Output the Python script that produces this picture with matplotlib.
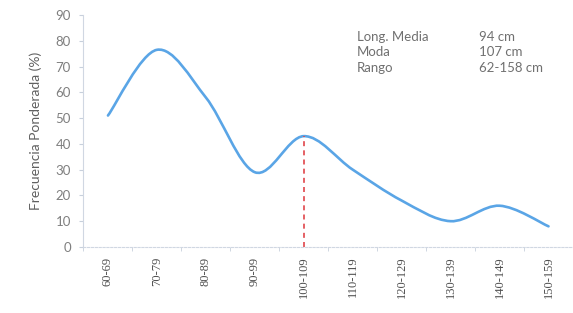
import numpy as np
import matplotlib
matplotlib.use("Agg")
import matplotlib.pyplot as plt
from matplotlib.path import Path
from matplotlib.patches import PathPatch

categories = ["60-69", "70-79", "80-89", "90-99", "100-109", "110-119",
              "120-129", "130-139", "140-149", "150-159"]
values = [51, 76.5, 58, 29, 43, 30, 18, 10, 16, 8]
moda_category = "100-109"
stats_labels = ["Long. Media", "Moda", "Rango"]
stats_values = ["94 cm", "107 cm", "62-158 cm"]
y_ticks = [0, 10, 20, 30, 40, 50, 60, 70, 80, 90]

fig = plt.figure(figsize=(5.73, 3.13), dpi=100)
ax = fig.add_axes([0.1457, 0.211, 0.8543, 0.741])

x = np.arange(len(categories), dtype=float)
y = np.array(values, dtype=float)

# Excel-like smoothed line (Catmull-Rom -> cubic Bezier)
verts = [(x[0], y[0])]
codes = [Path.MOVETO]
n = len(x)
for i in range(n - 1):
    p0 = np.array([x[max(i - 1, 0)], y[max(i - 1, 0)]])
    p1 = np.array([x[i], y[i]])
    p2 = np.array([x[i + 1], y[i + 1]])
    p3 = np.array([x[min(i + 2, n - 1)], y[min(i + 2, n - 1)]])
    c1 = p1 + (p2 - p0) / 6.0
    c2 = p2 - (p3 - p1) / 6.0
    verts += [tuple(c1), tuple(c2), tuple(p2)]
    codes += [Path.CURVE4] * 3
ax.add_patch(PathPatch(Path(verts, codes), facecolor="none",
                       edgecolor="#5aa5e6", lw=1.9, capstyle="round"))

mi = categories.index(moda_category)
ax.plot([x[mi], x[mi]], [0, y[mi]], ls=(0, (3, 2.5)), color="#e0454a", lw=1.2)

ax.set_xlim(-0.5, n - 0.5)
ax.set_ylim(0, 90)
ax.set_yticks(y_ticks)
ax.set_xticks(x)
ax.set_xticklabels(categories, rotation=90, family="Liberation Serif",
                   fontsize=9, color="#505050")
ax.set_xticks(np.arange(-0.5, n, 1.0), minor=True)
ax.tick_params(axis="x", which="major", length=0, pad=7)
ax.tick_params(axis="x", which="minor", length=3, color="#c8d0dc", direction="out")
ax.tick_params(axis="y", length=3, color="#c8d0dc", labelcolor="#7f7f7f",
               labelsize=9.5, pad=6)
for lab in ax.get_yticklabels():
    lab.set_family("Lato")

for s in ["top", "right"]:
    ax.spines[s].set_visible(False)
for s in ["left", "bottom"]:
    ax.spines[s].set_color("#d0d7e2")
    ax.spines[s].set_linewidth(0.8)
ax.spines["bottom"].set_linestyle((0, (2, 1.5)))

ax.set_ylabel("Frecuencia Ponderada (%)", family="Lato", fontsize=10,
              color="#606060", labelpad=10)

for i, (lab, val) in enumerate(zip(stats_labels, stats_values)):
    yy = 37 + i * 15.5
    fig.text(357 / 573, 1 - yy / 313, lab, family="Lato", fontsize=9.5,
             color="#707070", va="center", ha="left")
    fig.text(479 / 573, 1 - yy / 313, val, family="Lato", fontsize=9.5,
             color="#707070", va="center", ha="left")

fig.savefig("out.png", dpi=100)
